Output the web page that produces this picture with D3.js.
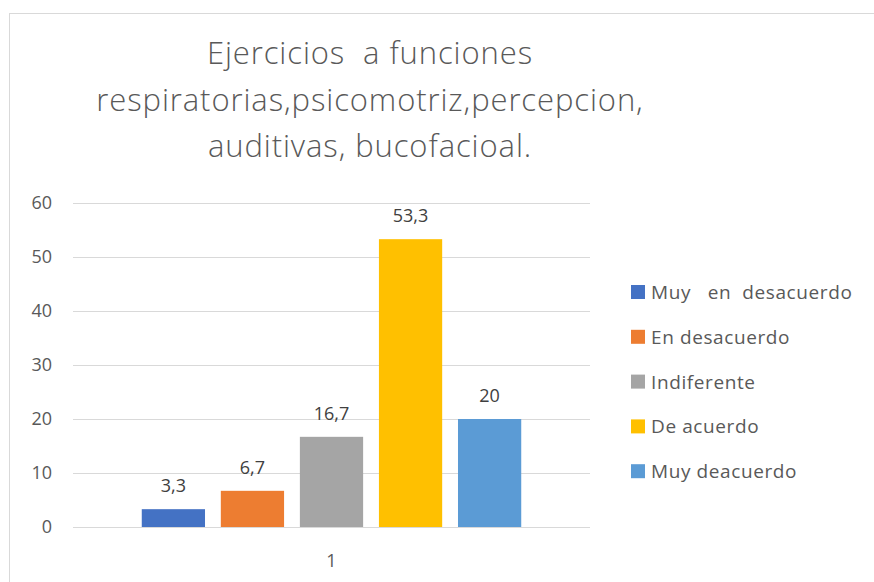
<!DOCTYPE html>
<html>
<head>
<meta charset="utf-8">
<script src="https://cdn.jsdelivr.net/npm/d3@7"></script>
<style>
  body { margin: 0; background: #fff; }
  svg { display: block; font-family: "Open Sans", "Noto Sans", sans-serif; }
</style>
</head>
<body>
<svg id="chart" width="874" height="582"></svg>
<script>
// data
const titleLines = ["Ejercicios  a funciones", "respiratorias,psicomotriz,percepcion,", "auditivas, bucofacioal."];
const categories = ["1"];
const series = ["Muy   en  desacuerdo", "En desacuerdo", "Indiferente", "De acuerdo", "Muy deacuerdo"];
const values = [3.3, 6.7, 16.7, 53.3, 20];
const colors = ["#4472C4", "#ED7D31", "#A5A5A5", "#FFC000", "#5B9BD5"];
const yTicks = [0, 10, 20, 30, 40, 50, 60];

const svg = d3.select("#chart");
const textColor = "#595959";

// chart frame
svg.append("rect")
    .attr("x", 9.5).attr("y", 13.5)
    .attr("width", 880).attr("height", 600)
    .attr("fill", "#fff")
    .attr("stroke", "#d9d9d9");

// title
svg.append("text")
    .attr("text-anchor", "middle")
    .attr("fill", textColor)
    .attr("font-size", 31)
    .attr("font-weight", 300)
    .attr("letter-spacing", 0.9)
    .attr("xml:space", "preserve")
    .style("white-space", "pre")
    .selectAll("tspan")
    .data(titleLines)
    .enter()
    .append("tspan")
    .attr("x", 370)
    .attr("y", (d, i) => 64 + i * 46.5)
    .text(d => d);

const plotLeft = 73, plotRight = 590, plotTop = 203, plotBottom = 527;

const x = d3.scaleBand().domain(categories).range([plotLeft, plotRight]);
const xs = d3.scaleBand().domain(series).range([x.bandwidth() * 0.133, x.bandwidth() * 0.867]).paddingInner(0.2);
const y = d3.scaleLinear().domain([0, 60]).range([plotBottom, plotTop]);

// gridlines
svg.append("g")
    .selectAll("line")
    .data(yTicks)
    .enter()
    .append("line")
    .attr("x1", plotLeft).attr("x2", plotRight)
    .attr("y1", d => y(d) + 0.5).attr("y2", d => y(d) + 0.5)
    .attr("stroke", "#d9d9d9")
    .attr("stroke-width", 1);

// y axis labels
const yAxis = d3.axisLeft(y).tickValues(yTicks).tickSize(0).tickPadding(0);
const gy = svg.append("g").attr("transform", "translate(52,0)").call(yAxis);
gy.select(".domain").remove();
gy.selectAll("text").attr("fill", textColor).attr("font-size", 18).attr("font-family", "Open Sans, sans-serif");

// x axis label
const xAxis = d3.axisBottom(x).tickSize(0).tickPadding(0);
const gx = svg.append("g").attr("transform", "translate(0,554)").call(xAxis);
gx.select(".domain").remove();
gx.selectAll("text").attr("fill", textColor).attr("font-size", 18).attr("font-family", "Open Sans, sans-serif");

// bars
const group = svg.append("g").attr("transform", "translate(" + x(categories[0]) + ",0)");
group.selectAll("rect")
    .data(values)
    .enter()
    .append("rect")
    .attr("x", (d, i) => xs(series[i]))
    .attr("y", d => y(d))
    .attr("width", xs.bandwidth())
    .attr("height", d => y(0) - y(d))
    .attr("fill", (d, i) => colors[i]);

// data labels
group.selectAll("text.lbl")
    .data(values)
    .enter()
    .append("text")
    .attr("class", "lbl")
    .attr("x", (d, i) => xs(series[i]) + xs.bandwidth() / 2)
    .attr("y", d => y(d) - 17)
    .attr("text-anchor", "middle")
    .attr("fill", "#404040")
    .attr("font-size", 18)
    .text(d => String(d).replace(".", ","));

// legend
const legend = svg.append("g")
    .selectAll("g")
    .data(series)
    .enter()
    .append("g")
    .attr("transform", (d, i) => "translate(631," + (292 + i * 44.8) + ")");
legend.append("rect")
    .attr("x", 0).attr("y", -7)
    .attr("width", 14).attr("height", 14)
    .attr("fill", (d, i) => colors[i]);
legend.append("text")
    .attr("x", 20).attr("y", 7)
    .attr("fill", textColor)
    .attr("font-size", 19)
    .attr("letter-spacing", 0.6)
    .attr("xml:space", "preserve")
    .style("white-space", "pre")
    .text(d => d);
</script>
</body>
</html>
